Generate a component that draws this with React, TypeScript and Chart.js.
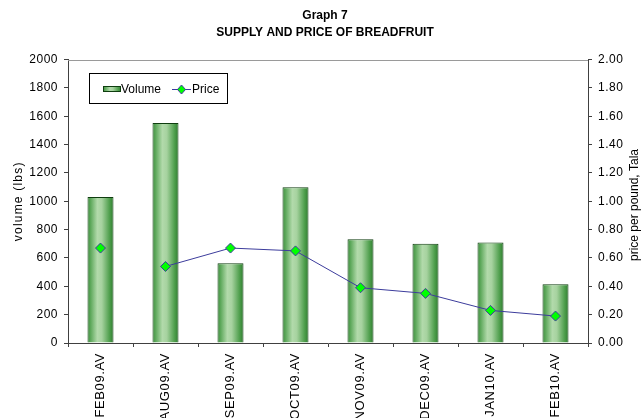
import React, { useEffect, useRef } from 'react';
import { Chart, registerables } from 'chart.js';

Chart.register(...registerables);

const categories = ['FEB09.AV', 'AUG09.AV', 'SEP09.AV', 'OCT09.AV', 'NOV09.AV', 'DEC09.AV', 'JAN10.AV', 'FEB10.AV'];
const volume = [1030, 1553, 562, 1100, 732, 700, 710, 415];
const price = [0.67, 0.54, 0.67, 0.65, 0.39, 0.35, 0.23, 0.19];
const titleLines = ['Graph 7', 'SUPPLY AND PRICE OF BREADFRUIT'];
const leftAxisTitle = 'volume (lbs)';
const rightAxisTitle = 'price per pound, Tala';
const seriesNames = ['Volume', 'Price'];

const FONT = "'Liberation Sans', Arial, sans-serif";
const LINE_COLOR = '#3c3c9c';
const POINT_FILL = '#00ff00';
const BAR_BORDER = '#0f3d0f';

function addStops(g: CanvasGradient) {
  g.addColorStop(0, '#3f8f3f');
  g.addColorStop(0.12, '#5da85b');
  g.addColorStop(0.38, '#b2daab');
  g.addColorStop(0.55, '#a6d29f');
  g.addColorStop(0.85, '#4e9e4c');
  g.addColorStop(1, '#2e7d2e');
}

function barGradient(c: any) {
  const chart = c.chart;
  const xs = chart.scales && chart.scales.x;
  const area = chart.chartArea;
  if (!xs || !area || c.dataIndex === undefined) return '#6ab36a';
  const cx = xs.getPixelForValue(c.dataIndex);
  const w = ((area.right - area.left) / categories.length) * 0.4;
  const g = chart.ctx.createLinearGradient(cx - w / 2, 0, cx + w / 2, 0);
  addStops(g);
  return g;
}

// wrap a scale's draw method so its text gets extra letter spacing
function spaced(s: any, method: string, spacing: string) {
  const key = '_spaced_' + method;
  if (s[key]) return;
  const orig = s[method].bind(s);
  s[method] = (...args: any[]) => {
    const c = s.ctx as any;
    const prev = c.letterSpacing;
    c.letterSpacing = spacing;
    orig(...args);
    c.letterSpacing = prev || '0px';
  };
  s[key] = true;
}

const extrasPlugin = {
  id: 'extras',
  afterDraw(chart: any) {
    const { ctx, chartArea } = chart;
    ctx.save();
    // top border of plot area
    ctx.strokeStyle = '#9a9a9a';
    ctx.lineWidth = 1;
    ctx.beginPath();
    ctx.moveTo(chartArea.left, Math.round(chartArea.top) + 0.5);
    ctx.lineTo(chartArea.right, Math.round(chartArea.top) + 0.5);
    ctx.stroke();

    // right axis title (reads bottom-to-top)
    ctx.fillStyle = '#000';
    ctx.font = `12px ${FONT}`;
    ctx.textAlign = 'center';
    ctx.textBaseline = 'middle';
    ctx.save();
    ctx.translate(635, 205);
    ctx.rotate(-Math.PI / 2);
    ctx.fillText(rightAxisTitle, 0, 0);
    ctx.restore();

    // legend
    const bx = 89.5, by = 73.5, bw = 138, bh = 30;
    ctx.fillStyle = '#fff';
    ctx.fillRect(bx, by, bw, bh);
    ctx.strokeStyle = '#000';
    ctx.strokeRect(bx, by, bw, bh);
    const sy = 89;
    const g = ctx.createLinearGradient(103, 0, 121, 0);
    addStops(g);
    ctx.fillStyle = g;
    ctx.fillRect(103, sy - 3, 18, 6);
    ctx.strokeStyle = BAR_BORDER;
    ctx.strokeRect(103.5, sy - 2.5, 17, 5);
    ctx.fillStyle = '#000';
    ctx.textAlign = 'left';
    ctx.textBaseline = 'middle';
    ctx.fillText(seriesNames[0], 121, sy + 1);
    ctx.strokeStyle = LINE_COLOR;
    ctx.beginPath();
    ctx.moveTo(172, sy + 0.5);
    ctx.lineTo(191, sy + 0.5);
    ctx.stroke();
    ctx.fillStyle = POINT_FILL;
    ctx.beginPath();
    ctx.moveTo(181.5, sy - 4);
    ctx.lineTo(185.5, sy + 0.5);
    ctx.lineTo(181.5, sy + 5);
    ctx.lineTo(177.5, sy + 0.5);
    ctx.closePath();
    ctx.fill();
    ctx.stroke();
    ctx.fillStyle = '#000';
    ctx.fillText(seriesNames[1], 192, sy + 1);
    ctx.restore();
  },
};

export default function App() {
  const ref = useRef<HTMLCanvasElement>(null);

  useEffect(() => {
    document.documentElement.style.margin = '0';
    document.body.style.margin = '0';
    document.body.style.overflow = 'hidden';
    Chart.defaults.font.family = FONT;
    Chart.defaults.color = '#000';
    const chart = new Chart(ref.current as HTMLCanvasElement, {
      type: 'bar',
      data: {
        labels: categories,
        datasets: [
          {
            type: 'line',
            label: seriesNames[1],
            data: price,
            yAxisID: 'y1',
            order: 0,
            borderColor: LINE_COLOR,
            borderWidth: 1,
            backgroundColor: POINT_FILL,
            pointStyle: 'rectRot',
            pointRadius: 5,
            pointBorderColor: LINE_COLOR,
            pointBorderWidth: 1,
            pointBackgroundColor: POINT_FILL,
            tension: 0,
            segment: {
              borderColor: (s: any) => (s.p0DataIndex === 0 ? 'rgba(0,0,0,0)' : LINE_COLOR),
            },
          } as any,
          {
            type: 'bar',
            label: seriesNames[0],
            data: volume,
            yAxisID: 'y',
            order: 1,
            backgroundColor: barGradient as any,
            borderColor: BAR_BORDER,
            borderWidth: 1,
            categoryPercentage: 1,
            barPercentage: 0.4,
          },
        ],
      },
      options: {
        animation: false,
        responsive: false,
        maintainAspectRatio: false,
        events: [],
        layout: { padding: { left: 9, right: 0, top: 0, bottom: 0 } },
        plugins: {
          legend: { display: false },
          tooltip: { enabled: false },
          title: {
            display: true,
            text: titleLines,
            color: '#000',
            font: { family: FONT, size: 12, weight: 'bold', lineHeight: 1.4 },
            padding: { top: 7, bottom: 19 },
          },
        },
        scales: {
          x: {
            offset: true,
            grid: {
              offset: true,
              drawOnChartArea: false,
              drawTicks: true,
              tickLength: 4,
              color: '#404040',
            },
            border: { color: '#404040', width: 1 },
            ticks: {
              autoSkip: false,
              minRotation: 90,
              maxRotation: 90,
              padding: 6,
              font: { size: 13 },
              color: '#000',
            },
            afterFit: (s: any) => {
              s.height = 75;
              spaced(s, 'drawLabels', '0.6px');
            },
          },
          y: {
            position: 'left',
            min: 0,
            max: 2000,
            ticks: {
              stepSize: 200,
              padding: 6,
              font: { size: 12 },
              color: '#000',
              callback: (v: any) => String(v),
            },
            grid: { drawOnChartArea: false, tickLength: 4, color: '#404040' },
            border: { color: '#404040', width: 1 },
            title: {
              display: true,
              text: leftAxisTitle,
              color: '#000',
              font: { size: 12 },
              padding: { top: 2, bottom: 0 },
            },
            afterFit: (s: any) => {
              s.width = 59;
              spaced(s, 'drawLabels', '0.5px');
              spaced(s, 'drawTitle', '1.2px');
            },
          },
          y1: {
            position: 'right',
            min: 0,
            max: 2,
            ticks: {
              stepSize: 0.2,
              padding: 6,
              font: { size: 12 },
              color: '#000',
              callback: (v: any) => Number(v).toFixed(2),
            },
            grid: { drawOnChartArea: false, tickLength: 4, color: '#404040' },
            border: { color: '#404040', width: 1 },
            afterFit: (s: any) => {
              s.width = 53;
              spaced(s, 'drawLabels', '0.5px');
            },
          },
        },
      },
      plugins: [extrasPlugin],
    });
    return () => chart.destroy();
  }, []);

  return (
    <div style={{ width: 641, height: 418, background: '#fff' }}>
      <canvas ref={ref} width={641} height={418} style={{ display: 'block' }} />
    </div>
  );
}
